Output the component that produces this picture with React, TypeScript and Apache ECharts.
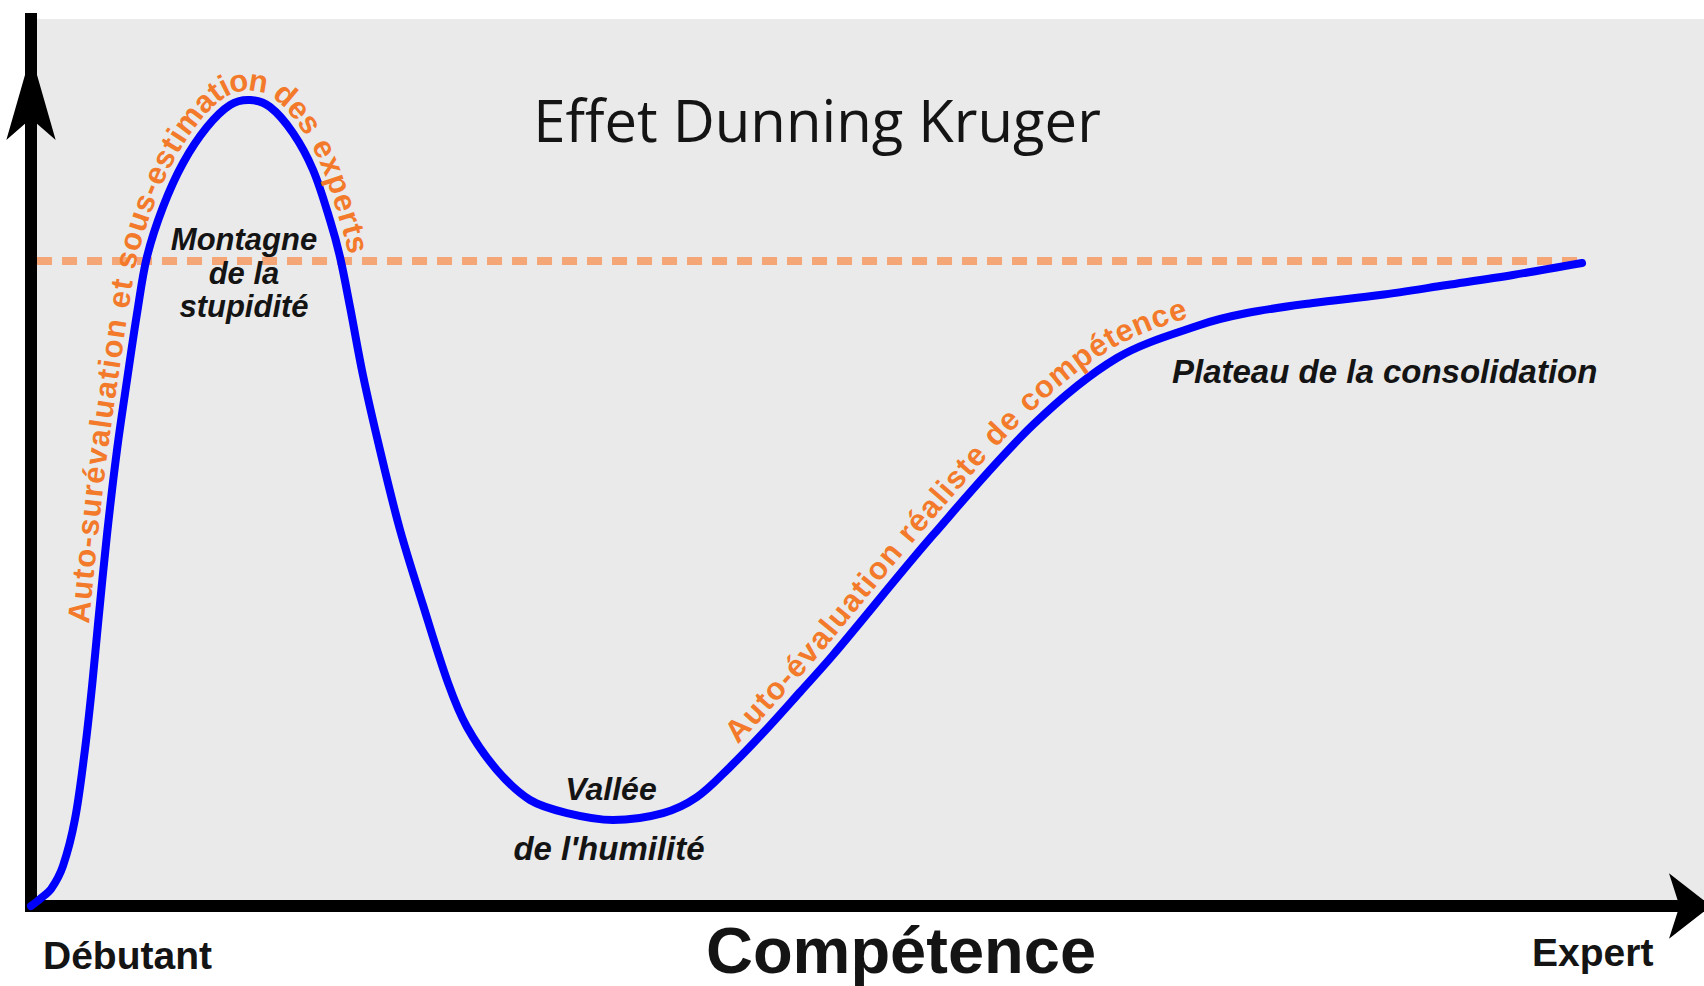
import React, { useEffect, useRef } from "react";
import * as echarts from "echarts";

// Compétence (0 = débutant, 100 = bout de l'axe) and self-confidence (0..100)
const competence = [
  0, 0.54, 1.2, 1.91, 2.63, 3.23, 3.65, 4.0, 4.54, 5.14,
  5.74, 6.34, 6.93, 7.89, 9.09, 10.52, 11.89, 13.09, 14.29, 15.66,
  16.86, 17.87, 18.47, 19.07, 19.84, 20.86, 22.06, 23.43, 24.93, 26.06,
  27.85, 29.83, 32.04, 34.79, 37.78, 39.81, 41.78, 43.75, 45.97, 47.94,
  53.92, 59.89, 64.91, 69.87, 72.68, 76.63, 80.63, 84.64, 88.58, 92.71,
];
const confidence = [
  0, 0.79, 1.92, 4.51, 9.8, 17.7, 24.8, 31.68, 41.83, 51.41,
  59.3, 66.85, 73.17, 78.81, 83.77, 87.82, 90.3, 90.87, 90.08, 87.15,
  82.98, 77.34, 73.17, 67.53, 59.86, 51.41, 42.39, 33.93, 25.14, 20.18,
  15.33, 11.95, 10.48, 9.7, 10.48, 12.29, 15.67, 19.5, 24.13, 28.3,
  41.83, 54.23, 61.78, 65.5, 66.85, 67.98, 68.88, 70.01, 71.14, 72.49,
];
// dashed reference level (real expertise level)
const referenceX = [0.36, 92.77];
const referenceY = [72.72, 72.72];

const titleText = "Effet Dunning Kruger";
const axisName = "Compétence";
const axisEnds = ["Débutant", "Expert"];
const stageLabels = ["Montagne", "de la", "stupidité", "Vallée", "de l'humilité", "Plateau de la consolidation"];
const curveTexts = [
  "Auto-surévaluation et sous-estimation des experts",
  "Auto-évaluation réaliste de compétence",
];
// competence range covered by each curved text
const curveTextRanges = [
  [4.0, 18.47],
  [42.7, 69.3],
];

const ORANGE = "#F37A2A";
const INK = "#141414";
const SANS = '"Liberation Sans", Arial, sans-serif';

type P = { x: number; y: number; d: number };

function sampleSpline(pts: P[], steps = 16): P[] {
  const out: P[] = [];
  for (let i = 0; i < pts.length - 1; i++) {
    const p0 = pts[Math.max(0, i - 1)];
    const p1 = pts[i];
    const p2 = pts[i + 1];
    const p3 = pts[Math.min(pts.length - 1, i + 2)];
    for (let s = 0; s < steps; s++) {
      const t = s / steps;
      const t2 = t * t;
      const t3 = t2 * t;
      const f = (a: number, b: number, c: number, d: number) =>
        0.5 * (2 * b + (-a + c) * t + (2 * a - 5 * b + 4 * c - d) * t2 + (-a + 3 * b - 3 * c + d) * t3);
      out.push({ x: f(p0.x, p1.x, p2.x, p3.x), y: f(p0.y, p1.y, p2.y, p3.y), d: p1.d + (p2.d - p1.d) * t });
    }
  }
  out.push(pts[pts.length - 1]);
  return out;
}

function curvedText(pts: P[], text: string, d0: number, d1: number, offset: number, size: number) {
  const sm = sampleSpline(pts);
  const off: P[] = sm.map((p, i) => {
    const a = sm[Math.max(0, i - 1)];
    const b = sm[Math.min(sm.length - 1, i + 1)];
    const tx = b.x - a.x;
    const ty = b.y - a.y;
    const l = Math.hypot(tx, ty) || 1;
    return { x: p.x + (ty / l) * offset, y: p.y + (-tx / l) * offset, d: p.d };
  });
  const cum: number[] = [0];
  for (let i = 1; i < off.length; i++) cum.push(cum[i - 1] + Math.hypot(off[i].x - off[i - 1].x, off[i].y - off[i - 1].y));
  const sAt = (d: number) => {
    for (let i = 1; i < off.length; i++) {
      if (off[i].d >= d) {
        const r = (d - off[i - 1].d) / (off[i].d - off[i - 1].d || 1);
        return cum[i - 1] + r * (cum[i] - cum[i - 1]);
      }
    }
    return cum[cum.length - 1];
  };
  const posAt = (s: number) => {
    let i = 1;
    while (i < off.length - 1 && cum[i] < s) i++;
    const a = off[i - 1];
    const b = off[i];
    const r = (s - cum[i - 1]) / (cum[i] - cum[i - 1] || 1);
    return { x: a.x + (b.x - a.x) * r, y: a.y + (b.y - a.y) * r, ang: Math.atan2(b.y - a.y, b.x - a.x) };
  };
  const ctx = document.createElement("canvas").getContext("2d")!;
  ctx.font = `bold ${size}px "Liberation Sans"`;
  const chars = Array.from(text);
  const w = chars.map((c) => ctx.measureText(c).width);
  const total = w.reduce((a, b) => a + b, 0);
  const s0 = sAt(d0);
  const s1 = sAt(d1);
  const extra = (s1 - s0 - total) / (chars.length - 1);
  const els: any[] = [];
  let s = s0;
  chars.forEach((c, i) => {
    const p = posAt(s + w[i] / 2);
    if (c !== " ") {
      els.push({
        type: "text",
        x: p.x,
        y: p.y,
        rotation: -p.ang,
        z: 20,
        style: {
          text: c,
          fill: ORANGE,
          fontSize: size,
          fontWeight: "bold",
          fontFamily: SANS,
          align: "center",
          verticalAlign: "middle",
        },
      });
    }
    s += w[i] + extra;
  });
  return els;
}

function label(text: string, x: number, y: number, size: number, align: string, italic = true, bold = true, family = SANS) {
  return {
    type: "text",
    x,
    y,
    z: 20,
    style: {
      text,
      fill: INK,
      fontSize: size,
      lineHeight: size,
      fontWeight: bold ? "bold" : "normal",
      fontStyle: italic ? "italic" : "normal",
      fontFamily: family,
      align,
      verticalAlign: "middle",
    },
  };
}

export default function App() {
  const ref = useRef<HTMLDivElement>(null);
  useEffect(() => {
    const chart = echarts.init(ref.current!, null, { renderer: "svg" });
    const axisLineStyle = { color: "#000000", width: 12, cap: "square" };
    chart.setOption({
      animation: false,
      backgroundColor: "#ffffff",
      grid: { left: 31, right: 0, top: 19, bottom: 80, show: true, backgroundColor: "#EAEAEA", borderWidth: 0 },
      xAxis: {
        type: "value",
        min: 0,
        max: 100,
        axisLine: {
          show: true,
          onZero: false,
          lineStyle: axisLineStyle,
          symbol: ["none", "arrow"],
          symbolSize: [49, 42],
          symbolOffset: [0, 7],
        },
        axisTick: { show: false },
        axisLabel: { show: false },
        splitLine: { show: false },
      },
      yAxis: {
        type: "value",
        min: 0,
        max: 100,
        axisLine: {
          show: true,
          onZero: false,
          lineStyle: axisLineStyle,
          symbol: ["none", "arrow"],
          symbolSize: [37, 86],
          symbolOffset: [0, -35],
        },
        axisTick: { show: false },
        axisLabel: { show: false },
        splitLine: { show: false },
      },
      series: [
        {
          name: "Niveau réel",
          type: "line",
          data: referenceX.map((x, i) => [x, referenceY[i]]),
          symbol: "none",
          silent: true,
          z: 2,
          lineStyle: { color: "#F5A676", width: 8, type: [15, 10] },
        },
        {
          name: "Confiance",
          type: "custom",
          coordinateSystem: "cartesian2d",
          silent: true,
          z: 3,
          data: competence.map((x, i) => [x, confidence[i]]),
          encode: { x: 0, y: 1 },
          renderItem: (params: any, api: any) => {
            if (params.dataIndex !== 0) return null;
            const points = competence.map((x, i) => api.coord([x, confidence[i]]));
            return {
              type: "polyline",
              shape: { points, smooth: 0.33 },
              style: { stroke: "#0000FF", lineWidth: 8, fill: null, lineJoin: "round", lineCap: "round" },
            };
          },
        },
      ],
    });

    const pts: P[] = competence.map((x, i) => {
      const p = chart.convertToPixel({ xAxisIndex: 0, yAxisIndex: 0 }, [x, confidence[i]]) as number[];
      return { x: p[0], y: p[1], d: x };
    });

    const graphics: any[] = [
      label(titleText, 817, 119, 58, "center", false, false, '"Open Sans", sans-serif'),
      label(axisName, 901, 950, 65, "center", false, true),
      label(axisEnds[0], 43, 955, 39, "left", false, true),
      label(axisEnds[1], 1532, 952, 39, "left", false, true),
      label(stageLabels[0], 244, 239, 31, "center"),
      label(stageLabels[1], 244, 273, 31, "center"),
      label(stageLabels[2], 244, 306, 31, "center"),
      label(stageLabels[3], 611, 789, 32, "center"),
      label(stageLabels[4], 609, 848, 33, "center"),
      label(stageLabels[5], 1172, 371, 33, "left"),
      ...curvedText(pts, curveTexts[0], curveTextRanges[0][0], curveTextRanges[0][1], 19.5, 31),
      ...curvedText(pts, curveTexts[1], curveTextRanges[1][0], curveTextRanges[1][1], 21, 31),
    ];
    chart.setOption({ graphic: graphics });
    return () => chart.dispose();
  }, []);
  return <div ref={ref} style={{ position: "fixed", left: 0, top: 0, width: 1704, height: 986 }} />;
}
